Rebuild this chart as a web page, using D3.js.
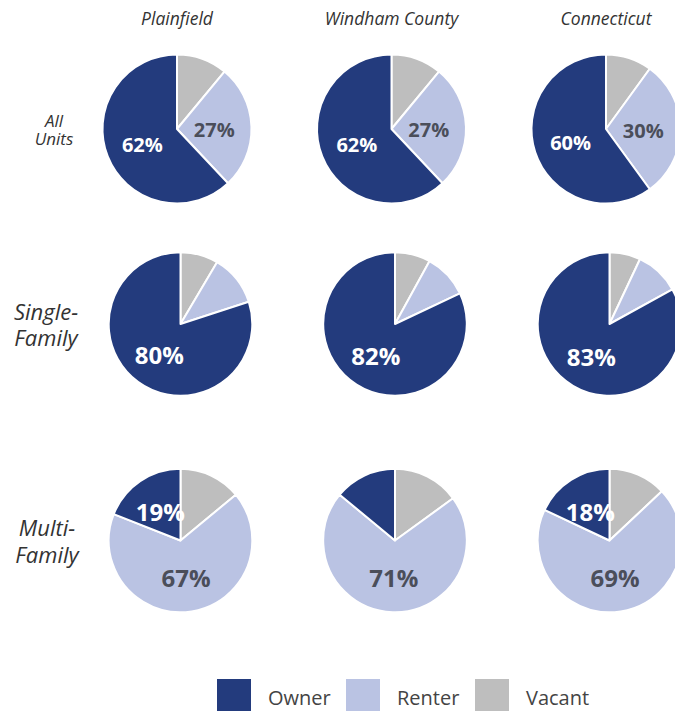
<!DOCTYPE html>
<html>
<head>
<meta charset="utf-8">
<script src="https://cdn.jsdelivr.net/npm/d3@7"></script>
<style>
  html, body { margin: 0; padding: 0; background: #fff; overflow: hidden; }
  svg { display: block; font-family: "Open Sans", "Noto Sans", sans-serif; }
</style>
</head>
<body>
<svg id="chart" width="675" height="711"></svg>
<script>
// ---- data ----
const regions = ["Plainfield", "Windham County", "Connecticut"];
const unitTypes = [["All", "Units"], ["Single-", "Family"], ["Multi-", "Family"]];
const categories = ["Vacant", "Renter", "Owner"]; // clockwise from 12 o'clock
const legendOrder = ["Owner", "Renter", "Vacant"];

// values per unit type, per region: [vacant, renter, owner]
const allUnits     = [[11, 27, 62], [11, 27, 62], [10, 30, 60]];
const singleFamily = [[8.5, 11.5, 80], [8, 10, 82], [7, 10, 83]];
const multiFamily  = [[14, 67, 19], [15, 71, 14], [13, 69, 18]];
const rowsData = [allUnits, singleFamily, multiFamily];
const labelMin = 16; // smaller slices are left unlabelled

// ---- style / layout ----
const colors = { Owner: "#233b7d", Renter: "#bac3e3", Vacant: "#bebebe" };
const labelColors = { Owner: "#ffffff", Renter: "#4b4e5a", Vacant: "#4b4e5a" };
const rowY = [129, 324, 540.5];
const rowShift = [0, 3.5, 3.5];
const rowRadius = [74.5, 71.8, 71.8];
const rowValueSize = [20, 24, 24];
const rowLabelStyle = [
  { size: 17, x: 54, lines: [126.5, 145] },
  { size: 22, x: 46, lines: [320, 346] },
  { size: 22, x: 47, lines: [536, 563] }
];

const svg = d3.select("#chart");
const x = d3.scalePoint().domain(regions).range([177, 606]);
const color = d3.scaleOrdinal().domain(legendOrder).range(legendOrder.map(k => colors[k]));

// column titles
svg.selectAll("text.col").data(regions).join("text")
  .attr("class", "col")
  .attr("x", d => x(d))
  .attr("y", 25)
  .attr("text-anchor", "middle")
  .attr("font-style", "italic")
  .attr("font-size", 17.5)
  .attr("fill", "#333")
  .text(d => d);

// row labels
unitTypes.forEach((lines, ri) => {
  const st = rowLabelStyle[ri];
  lines.forEach((ln, li) => {
    svg.append("text")
      .attr("x", st.x)
      .attr("y", st.lines[li])
      .attr("text-anchor", "middle")
      .attr("font-style", "italic")
      .attr("font-size", st.size)
      .attr("fill", "#333")
      .text(ln);
  });
});

const pie = d3.pie().sort(null).value(d => d.value);

rowsData.forEach((row, ri) => {
  const R = rowRadius[ri];
  const arc = d3.arc().innerRadius(0).outerRadius(R);
  regions.forEach((reg, ci) => {
    const vals = row[ci].map((v, k) => ({ key: categories[k], value: v }));
    const g = svg.append("g")
      .attr("transform", `translate(${x(reg) + rowShift[ri]},${rowY[ri]})`);
    const arcs = pie(vals);
    g.selectAll("path").data(arcs).join("path")
      .attr("d", arc)
      .attr("fill", d => color(d.data.key))
      .attr("stroke", "#fff")
      .attr("stroke-width", 2)
      .attr("stroke-linejoin", "round");
    g.selectAll("text").data(arcs.filter(d => d.data.value >= labelMin)).join("text")
      .attr("transform", d => { const c = arc.centroid(d); return `translate(${c[0]},${c[1] + 2})`; })
      .attr("text-anchor", "middle")
      .attr("dy", "0.36em")
      .attr("font-weight", 700)
      .attr("font-size", rowValueSize[ri])
      .attr("fill", d => labelColors[d.data.key])
      .text(d => Math.round(d.data.value) + "%");
  });
});

// legend
const legendX = d3.scalePoint().domain(legendOrder).range([217, 475]);
const lg = svg.selectAll("g.leg").data(legendOrder).join("g")
  .attr("class", "leg")
  .attr("transform", d => `translate(${legendX(d)},679)`);
lg.append("rect").attr("width", 34).attr("height", 34).attr("fill", d => color(d));
lg.append("text")
  .attr("x", 51).attr("y", 26)
  .attr("font-size", 20)
  .attr("fill", "#444")
  .text(d => d);
</script>
</body>
</html>
